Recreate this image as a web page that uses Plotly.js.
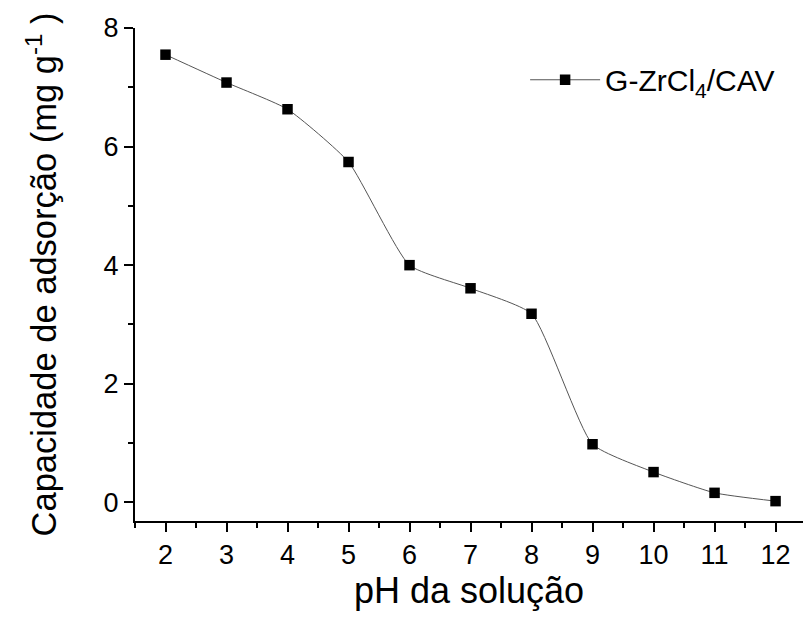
<!DOCTYPE html>
<html>
<head>
<meta charset="utf-8">
<script src="https://cdn.plot.ly/plotly-3.0.1.min.js"></script>
<style>html,body{margin:0;padding:0;background:#fff;}#chart{width:803px;height:619px;}</style>
</head>
<body>
<div id="chart"></div>
<script>
const phValues = [2, 3, 4, 5, 6, 7, 8, 9, 10, 11, 12];
const capacity = [7.55, 7.08, 6.63, 5.74, 4.0, 3.61, 3.18, 0.98, 0.51, 0.16, 0.02];
const seriesName = 'G-ZrCl<sub>4</sub>/CAV';
const xTickVals = [2, 3, 4, 5, 6, 7, 8, 9, 10, 11, 12];
const yTickVals = [0, 2, 4, 6, 8];
const xTitle = 'pH da solução';
const yTitle = 'Capacidade de adsorção (mg g<sup>-1</sup> )';

const font = '"Liberation Sans", Arial, sans-serif';

const trace = {
  x: phValues,
  y: capacity,
  name: seriesName,
  type: 'scatter',
  mode: 'lines+markers',
  line: {color: '#555', width: 1, shape: 'spline', smoothing: 0.5},
  marker: {symbol: 'square', size: 10.5, color: '#000', line: {width: 0}},
  showlegend: true
};

const layout = {
  width: 803, height: 619,
  margin: {l: 135, r: 0, t: 28, b: 98},
  paper_bgcolor: '#fff', plot_bgcolor: '#fff',
  font: {family: font, color: '#000'},
  showlegend: true,
  legend: {
    x: 0.584, y: 0.895, xanchor: 'left', yanchor: 'middle',
    xref: 'paper', yref: 'paper',
    font: {size: 30, family: font, color: '#000'},
    bgcolor: 'rgba(0,0,0,0)', borderwidth: 0,
    itemwidth: 70
  },
  xaxis: {
    range: [1.5, 12.45],
    tickvals: xTickVals,
    ticktext: xTickVals.map(String),
    showline: true, linecolor: '#000', linewidth: 2,
    ticks: 'outside', ticklen: 9, tickwidth: 2, tickcolor: '#000',
    minor: {dtick: 0.5, tick0: 1.5, ticks: 'outside', ticklen: 5, tickwidth: 2, tickcolor: '#000', showgrid: false},
    tickfont: {size: 27, family: font},
    showgrid: false, zeroline: false, mirror: false,
    title: {text: xTitle, font: {size: 36, family: font}, standoff: 7}
  },
  yaxis: {
    range: [-0.315, 8],
    tickvals: yTickVals,
    ticktext: yTickVals.map(String),
    showline: true, linecolor: '#000', linewidth: 2,
    ticks: 'outside', ticklen: 9, tickwidth: 2, tickcolor: '#000',
    minor: {dtick: 1, tick0: 0, ticks: 'outside', ticklen: 5, tickwidth: 2, tickcolor: '#000', showgrid: false},
    tickfont: {size: 27, family: font},
    showgrid: false, zeroline: false, mirror: false,
    title: {text: yTitle, font: {size: 34.5, family: font}, standoff: 36}
  }
};

Plotly.newPlot('chart', [trace], layout, {displayModeBar: false, staticPlot: true});
</script>
</body>
</html>
